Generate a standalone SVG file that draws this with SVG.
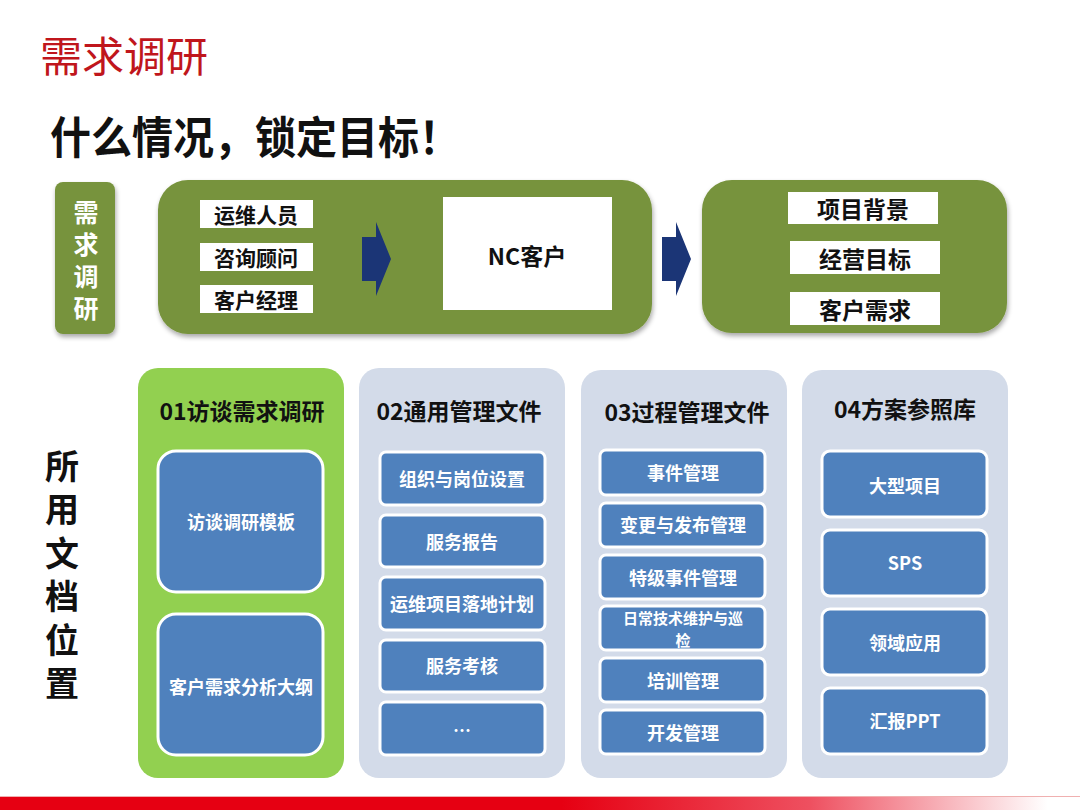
<svg xmlns="http://www.w3.org/2000/svg" width="1080" height="810" viewBox="0 0 1080 810">
<defs>
<linearGradient id="redbar" x1="0" y1="0" x2="1" y2="0">
<stop offset="0" stop-color="#e60012"/>
<stop offset="0.52" stop-color="#e60012"/>
<stop offset="0.75" stop-color="#ee5060"/>
<stop offset="0.97" stop-color="#ffffff"/>
</linearGradient>
<filter id="sh" x="-10%" y="-10%" width="120%" height="125%">
<feGaussianBlur in="SourceAlpha" stdDeviation="2.5"/>
<feOffset dx="1" dy="3" result="b"/>
<feComponentTransfer><feFuncA type="linear" slope="0.35"/></feComponentTransfer>
<feMerge><feMergeNode/><feMergeNode in="SourceGraphic"/></feMerge>
</filter>
<style>
text{font-family:"Noto Sans CJK SC","Noto Sans",sans-serif;text-anchor:middle;dominant-baseline:central}
.olive{fill:#77933c}
.wlabel{fill:#ffffff}
.lt{font-size:21px;font-weight:bold;fill:#111}
.rt{font-size:23px;font-weight:bold;fill:#111}
.col1{fill:#92d050}
.colg{fill:#d3dbe9}
.hdr{font-size:23px;font-weight:bold;fill:#111}
.box{fill:#4f81bd;stroke:#ffffff;stroke-width:3}
.bt{font-size:18px;font-weight:bold;fill:#ffffff}
.side{font-size:25px;font-weight:bold;fill:#ffffff;writing-mode:vertical-rl;text-anchor:start;letter-spacing:7px}
.vt{font-size:34px;font-weight:bold;fill:#111;writing-mode:vertical-rl;text-anchor:start;letter-spacing:9.5px}
.arrow{fill:#1b3576}
</style>
</defs>
<rect width="1080" height="810" fill="#ffffff"/>

<text x="124" y="53" style="font-size:42px;fill:#c0161c;font-weight:normal">需求调研</text>
<text x="255" y="135" textLength="410" lengthAdjust="spacingAndGlyphs" style="font-size:44px;font-weight:bold;fill:#111">什么情况，锁定目标！</text>

<g id="side-label">
<rect x="55" y="182" width="60" height="152" rx="8" class="olive" filter="url(#sh)"/>
<text x="86" y="199.5" class="side">需求调研</text>
</g>

<g id="source-box">
<rect x="158" y="180" width="494" height="154" rx="30" class="olive" filter="url(#sh)"/>
<rect x="200" y="200" width="113" height="28" class="wlabel"/>
<text x="256" y="214" class="lt">运维人员</text>
<rect x="200" y="243" width="113" height="28" class="wlabel"/>
<text x="256" y="257" class="lt">咨询顾问</text>
<rect x="200" y="285" width="113" height="28" class="wlabel"/>
<text x="256" y="299" class="lt">客户经理</text>
<rect x="443" y="197" width="169" height="113" class="wlabel"/>
<text x="527" y="255" style="font-size:23px;font-weight:bold;fill:#111">NC客户</text>
</g>

<g id="target-box">
<rect x="702" y="180" width="305" height="153" rx="30" class="olive" filter="url(#sh)"/>
<rect x="788" y="192" width="150" height="32" class="wlabel"/>
<text x="863" y="208" class="rt">项目背景</text>
<rect x="790" y="241" width="150" height="33" class="wlabel"/>
<text x="865" y="258" class="rt">经营目标</text>
<rect x="790" y="292" width="150" height="33" class="wlabel"/>
<text x="865" y="309" class="rt">客户需求</text>
</g>

<g id="connectors">
<polygon class="arrow" points="362,237 376,237 376,222 391,259 376,296 376,281 362,281"/>
<polygon class="arrow" points="662,237 676,237 676,222 691,259 676,296 676,281 662,281"/>
</g>

<g id="docs-label">
<text x="62" y="449" class="vt">所用文档位置</text>
</g>

<g id="col-01">
<rect x="138" y="368" width="206" height="410" rx="20" class="col1"/>
<text x="242" y="410" class="hdr">01访谈需求调研</text>
<rect x="158" y="451" width="165" height="141" rx="18" class="box"/>
<text x="241" y="521" class="bt">访谈调研模板</text>
<rect x="158" y="614" width="165" height="141" rx="18" class="box"/>
<text x="241" y="686" class="bt">客户需求分析大纲</text>
</g>

<g id="col-02">
<rect x="359" y="368" width="206" height="410" rx="20" class="colg"/>
<text x="459" y="410" class="hdr">02通用管理文件</text>
<rect x="380" y="452" width="165" height="53" rx="6" class="box"/>
<text x="462" y="478" class="bt">组织与岗位设置</text>
<rect x="380" y="515" width="165" height="52" rx="6" class="box"/>
<text x="462" y="541" class="bt">服务报告</text>
<rect x="380" y="577" width="165" height="53" rx="6" class="box"/>
<text x="462" y="603" class="bt">运维项目落地计划</text>
<rect x="380" y="640" width="165" height="52" rx="6" class="box"/>
<text x="462" y="665" class="bt">服务考核</text>
<rect x="380" y="702" width="165" height="53" rx="6" class="box"/>
<text x="462" y="729" class="bt">…</text>
</g>

<g id="col-03">
<rect x="581" y="370" width="206" height="408" rx="20" class="colg"/>
<text x="687" y="411" class="hdr">03过程管理文件</text>
<rect x="600" y="450" width="165" height="45" rx="6" class="box"/>
<text x="683" y="472" class="bt">事件管理</text>
<rect x="600" y="503" width="165" height="44" rx="6" class="box"/>
<text x="683" y="524" class="bt">变更与发布管理</text>
<rect x="600" y="555" width="165" height="44" rx="6" class="box"/>
<text x="683" y="577" class="bt">特级事件管理</text>
<rect x="600" y="606" width="165" height="44" rx="6" class="box"/>
<text x="683" y="617" class="bt" style="font-size:15px">日常技术维护与巡</text>
<text x="683" y="639" class="bt" style="font-size:15px">检</text>
<rect x="600" y="658" width="165" height="44" rx="6" class="box"/>
<text x="683" y="680" class="bt">培训管理</text>
<rect x="600" y="710" width="165" height="44" rx="6" class="box"/>
<text x="683" y="732" class="bt">开发管理</text>
</g>

<g id="col-04">
<rect x="802" y="370" width="206" height="408" rx="20" class="colg"/>
<text x="905" y="408" class="hdr">04方案参照库</text>
<rect x="822" y="451" width="165" height="66" rx="8" class="box"/>
<text x="905" y="485" class="bt">大型项目</text>
<rect x="822" y="530" width="165" height="66" rx="8" class="box"/>
<text x="905" y="562" class="bt">SPS</text>
<rect x="822" y="609" width="165" height="66" rx="8" class="box"/>
<text x="905" y="642" class="bt">领域应用</text>
<rect x="822" y="688" width="165" height="66" rx="8" class="box"/>
<text x="905" y="720" class="bt">汇报PPT</text>
</g>

<rect x="0" y="796" width="1080" height="1" fill="#f0b0b0"/>
<rect x="0" y="797" width="1080" height="13" fill="url(#redbar)"/>
</svg>
